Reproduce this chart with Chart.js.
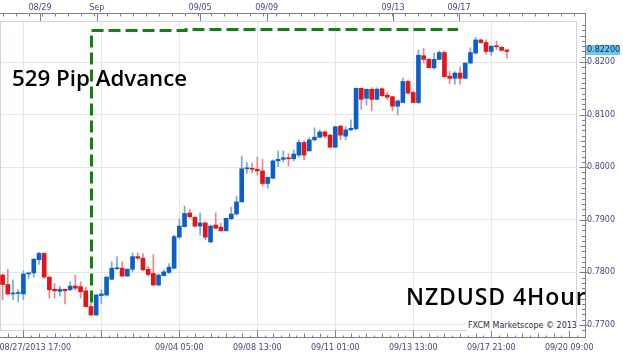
<!DOCTYPE html>
<html>
<head>
<meta charset="utf-8">
<script src="https://cdn.jsdelivr.net/npm/chart.js@4.4.0/dist/chart.umd.min.js"></script>
<style>
body { margin: 0; background: #fff; }
#wrap { position: relative; width: 623px; height: 354px; overflow: hidden; }
.big { position: absolute; font-family: "Open Sans"; font-weight: 600; font-size: 23px; line-height: 23px; color: #000; white-space: nowrap; }
#mark { position: absolute; left: 467px; top: 321px; font: 8px "DejaVu Sans"; line-height: 10px; color: #2b2b45; background: #fff; padding: 0 1px; }
</style>
</head>
<body>
<div id="wrap">
  <canvas id="chart" width="623" height="354"></canvas>
  <div class="big" style="left:12px;top:66px;font-size:22.3px">529 Pip Advance</div>
  <div class="big" style="left:406px;top:285px;letter-spacing:0.9px">NZDUSD 4Hour</div>
  <div id="mark">FXCM Marketscope © 2013</div>
</div>
<script>
// NZDUSD 4 hour candles, 08/27/2013 17:00 onwards
var opens = [0.7795,0.7777,0.7759,0.7760,0.7759,0.7797,0.7799,0.7824,0.7836,0.7791,
  0.7768,0.7764,0.7768,0.7767,0.7774,0.7773,0.7765,0.7735,0.7719,0.7756,
  0.7757,0.7787,0.7807,0.7808,0.7793,0.7806,0.7830,0.7827,0.7806,0.7798,
  0.7776,0.7794,0.7800,0.7808,0.7867,0.7887,0.7913,0.7905,0.7888,0.7894,
  0.7858,0.7890,0.7886,0.7879,0.7902,0.7911,0.7934,0.7997,0.7998,0.7996,
  0.7993,0.7969,0.7979,0.8012,0.8015,0.8017,0.8016,0.8023,0.8047,0.8031,
  0.8052,0.8057,0.8067,0.8061,0.8038,0.8078,0.8059,0.8071,0.8073,0.8150,
  0.8131,0.8148,0.8129,0.8149,0.8137,0.8134,0.8116,0.8123,0.8163,0.8142,
  0.8123,0.8212,0.8205,0.8189,0.8205,0.8218,0.8173,0.8169,0.8179,0.8169,
  0.8198,0.8217,0.8242,0.8237,0.8220,0.8230,0.8228,0.8223];
var highs = [0.7797,0.7806,0.7786,0.7767,0.7803,0.7801,0.7827,0.7838,0.7838,0.7792,
  0.7779,0.7774,0.7768,0.7782,0.7795,0.7782,0.7772,0.7741,0.7759,0.7767,
  0.7792,0.7820,0.7830,0.7820,0.7807,0.7837,0.7837,0.7836,0.7811,0.7834,
  0.7797,0.7805,0.7817,0.7871,0.7901,0.7926,0.7920,0.7905,0.7913,0.7896,
  0.7890,0.7913,0.7894,0.7903,0.7924,0.7945,0.8021,0.8009,0.8008,0.8019,
  0.8015,0.7981,0.8014,0.8031,0.8031,0.8026,0.8033,0.8052,0.8050,0.8056,
  0.8075,0.8071,0.8069,0.8063,0.8078,0.8080,0.8077,0.8090,0.8151,0.8151,
  0.8149,0.8151,0.8151,0.8151,0.8142,0.8135,0.8128,0.8170,0.8166,0.8145,
  0.8223,0.8226,0.8207,0.8217,0.8221,0.8221,0.8182,0.8182,0.8191,0.8198,
  0.8227,0.8247,0.8243,0.8242,0.8231,0.8240,0.8229,0.8223];
var lows = [0.7748,0.7757,0.7748,0.7744,0.7748,0.7788,0.7791,0.7815,0.7789,0.7751,
  0.7751,0.7755,0.7740,0.7765,0.7767,0.7751,0.7734,0.7718,0.7718,0.7741,
  0.7755,0.7786,0.7805,0.7792,0.7792,0.7801,0.7824,0.7803,0.7794,0.7775,
  0.7774,0.7793,0.7798,0.7806,0.7865,0.7886,0.7903,0.7886,0.7871,0.7862,
  0.7856,0.7883,0.7879,0.7879,0.7900,0.7909,0.7934,0.7988,0.7989,0.7985,
  0.7964,0.7960,0.7978,0.8001,0.8010,0.8002,0.8012,0.8019,0.8014,0.8031,
  0.8050,0.8056,0.8055,0.8037,0.8037,0.8052,0.8052,0.8069,0.8071,0.8110,
  0.8118,0.8107,0.8128,0.8134,0.8128,0.8107,0.8099,0.8122,0.8139,0.8122,
  0.8121,0.8198,0.8189,0.8187,0.8204,0.8171,0.8159,0.8158,0.8158,0.8168,
  0.8196,0.8215,0.8236,0.8215,0.8213,0.8224,0.8221,0.8207];
var closes = [0.7777,0.7759,0.7760,0.7761,0.7797,0.7799,0.7825,0.7836,0.7791,0.7767,
  0.7765,0.7768,0.7765,0.7774,0.7770,0.7763,0.7735,0.7719,0.7757,0.7759,
  0.7791,0.7808,0.7808,0.7793,0.7806,0.7830,0.7827,0.7805,0.7796,0.7776,
  0.7795,0.7801,0.7810,0.7868,0.7888,0.7912,0.7906,0.7888,0.7894,0.7867,
  0.7888,0.7884,0.7879,0.7903,0.7911,0.7934,0.7997,0.7998,0.7996,0.7993,
  0.7969,0.7981,0.8012,0.8015,0.8018,0.8016,0.8025,0.8047,0.8023,0.8052,
  0.8057,0.8067,0.8059,0.8038,0.8077,0.8061,0.8071,0.8074,0.8150,0.8129,
  0.8148,0.8129,0.8148,0.8136,0.8133,0.8116,0.8126,0.8163,0.8141,0.8123,
  0.8213,0.8205,0.8189,0.8205,0.8218,0.8172,0.8169,0.8179,0.8169,0.8198,
  0.8218,0.8242,0.8237,0.8220,0.8230,0.8229,0.8222,0.8220];

// price axis
var priceTicks = [0.77, 0.78, 0.79, 0.80, 0.81, 0.82];
var priceMin = 0.768859, priceMax = 0.827795;

// time axes, positions in candle slots
var slotMin = -0.5, slotMax = 110.5;
var bottomTickIdx = [4, 6.3, 19, 34, 49, 64, 79, 94, 109];
var bottomTickText = ['', '08/27/2013 17:00', '', '09/04 05:00', '09/08 13:00', '09/11 01:00', '09/13 13:00', '09/17 21:00', '09/20 09:00'];
var topTickIdx = [7.2, 18.1, 38, 50.8, 75.1, 87.8];
var topTickText = ['08/29', 'Sep', '09/05', '09/09', '09/13', '09/17'];

// green 529 pip marker
var advX = [17.1, 17.1, 35.3, 35.3, 87.6];
var advY = [0.7743, 0.8260, 0.8260, 0.8262, 0.8262];

var labelColor = '#45458a';
var axisFont = { family: 'DejaVu Sans', size: 8 };

var idx = closes.map(function (c, i) { return i; });
var up = idx.map(function (i) { return closes[i] >= opens[i]; });

var wickData = idx.map(function (i) { return { x: i, y: [lows[i], highs[i]] }; });
var bodyData = idx.map(function (i) { return { x: i, y: [opens[i], closes[i]] }; });
var advData = advX.map(function (v, k) { return { x: v, y: advY[k] }; });

var axisDecor = {
  id: 'axisDecor',
  beforeDatasetsDraw: function (chart) {
    var ctx = chart.ctx, a = chart.chartArea;
    ctx.save();
    ctx.strokeStyle = '#cbd4e4';
    ctx.lineWidth = 1;
    ctx.strokeRect(a.left + 0.5, a.top + 0.5, a.right - a.left - 1, a.bottom - a.top - 1);
    ctx.restore();
  },
  afterDraw: function (chart) {
    var ctx = chart.ctx, x = chart.scales.x, y = chart.scales.y;
    ctx.save();
    ctx.strokeStyle = '#808080';
    ctx.lineWidth = 1;
    ctx.beginPath();
    ctx.moveTo(0, 13.5); ctx.lineTo(586, 13.5);
    ctx.moveTo(585.5, 13.5); ctx.lineTo(585.5, 338);
    ctx.moveTo(0, 337.5); ctx.lineTo(586, 337.5);
    var px, t, k;
    // top ruler
    for (t = 0; t <= 110; t += 2.5) {
      px = Math.round(x.getPixelForValue(t)) + 0.5;
      ctx.moveTo(px, 13.5); ctx.lineTo(px, 16.5);
    }
    topTickIdx.forEach(function (v) {
      px = Math.round(x.getPixelForValue(v)) + 0.5;
      ctx.moveTo(px, 13.5); ctx.lineTo(px, 21);
    });
    // bottom ruler
    for (k = -2; 4 + k * 1.5 <= 110.5; k++) {
      t = 4 + k * 1.5;
      px = Math.round(x.getPixelForValue(t)) + 0.5;
      var len = k % 10 === 0 ? 7 : (k % 2 === 0 ? 4 : 2);
      ctx.moveTo(px, 337.5); ctx.lineTo(px, 337.5 - len);
    }
    // price ruler
    for (var m = 769; m <= 827; m++) {
      var py = Math.round(y.getPixelForValue(m / 1000)) + 0.5;
      var l2 = m % 10 === 0 ? 6 : (m % 5 === 0 ? 5 : 3.5);
      ctx.moveTo(585.5 - l2, py); ctx.lineTo(m % 10 === 0 ? 588 : 585.5, py);
    }
    ctx.stroke();

    // last price box
    var last = closes[closes.length - 1];
    var ly = y.getPixelForValue(last);
    ctx.fillStyle = '#6cc7f3';
    ctx.fillRect(586, Math.round(ly) - 6, 34, 10);
    ctx.fillStyle = '#14213d';
    ctx.font = '8px "DejaVu Sans"';
    ctx.textBaseline = 'middle';
    ctx.fillText(last.toFixed(5), 587, Math.round(ly) - 1);
    ctx.restore();
  }
};

new Chart(document.getElementById('chart'), {
  type: 'bar',
  data: {
    datasets: [
      {
        type: 'line',
        data: advData,
        borderColor: '#13820f',
        borderWidth: 3,
        borderDash: [12, 5],
        pointRadius: 0,
        tension: 0,
        fill: false,
        order: 0
      },
      {
        data: bodyData,
        backgroundColor: up.map(function (u) { return u ? '#0c5fc6' : '#e3151a'; }),
        barThickness: 4,
        minBarLength: 1,
        borderWidth: 0,
        grouped: false,
        order: 1
      },
      {
        data: wickData,
        backgroundColor: up.map(function (u) { return u ? '#7aa7dd' : '#ee8585'; }),
        barThickness: 1,
        borderWidth: 0,
        grouped: false,
        order: 2
      }
    ]
  },
  options: {
    responsive: false,
    animation: false,
    layout: { padding: 0 },
    plugins: { legend: { display: false }, tooltip: { enabled: false } },
    scales: {
      x: {
        type: 'linear', position: 'bottom', min: slotMin, max: slotMax, offset: false,
        afterBuildTicks: function (s) { s.ticks = bottomTickIdx.map(function (v) { return { value: v }; }); },
        afterFit: function (s) { s.height = 23; },
        grid: {
          offset: false, drawTicks: false,
          color: function (c) { return c.tick && (c.tick.value === 6.3 || c.tick.value === 109) ? 'rgba(0,0,0,0)' : '#e6e6e6'; }
        },
        border: { display: false },
        ticks: { autoSkip: false, maxRotation: 0, minRotation: 0, padding: 12, color: labelColor, font: axisFont,
          callback: function (v, i) { return bottomTickText[i]; } }
      },
      xTop: {
        type: 'linear', axis: 'x', position: 'top', min: slotMin, max: slotMax, offset: false,
        afterBuildTicks: function (s) { s.ticks = topTickIdx.map(function (v) { return { value: v }; }); },
        afterFit: function (s) { s.height = 21; },
        grid: { display: false, drawTicks: false },
        border: { display: false },
        ticks: { autoSkip: false, maxRotation: 0, minRotation: 0, padding: 8, color: labelColor, font: axisFont,
          callback: function (v, i) { return topTickText[i]; } }
      },
      y: {
        type: 'linear', position: 'right', min: priceMin, max: priceMax,
        afterBuildTicks: function (s) { s.ticks = priceTicks.map(function (v) { return { value: v }; }); },
        afterFit: function (s) { s.width = 46; },
        grid: { color: '#e6e6e6', drawTicks: false },
        border: { display: false },
        ticks: { padding: 10, color: labelColor, font: axisFont,
          callback: function (v) { return v.toFixed(4); } }
      }
    }
  },
  plugins: [axisDecor]
});
</script>
</body>
</html>
